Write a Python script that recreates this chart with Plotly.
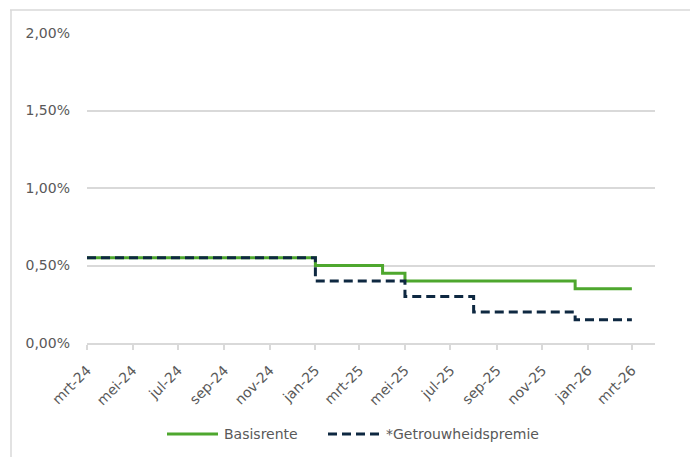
import plotly.graph_objects as go

# Step dates and rates (in %) for each series
basis_dates = ["2024-03-01", "2025-01-01", "2025-04-01", "2025-05-01", "2025-12-15", "2026-03-01"]
basis_rates = [0.55, 0.50, 0.45, 0.40, 0.35, 0.35]

premie_dates = ["2024-03-01", "2025-01-01", "2025-05-01", "2025-08-01", "2025-12-15", "2026-03-01"]
premie_rates = [0.55, 0.40, 0.30, 0.20, 0.15, 0.15]

# X-axis ticks every two months, Dutch month abbreviations
tick_dates = ["2024-03-01", "2024-05-01", "2024-07-01", "2024-09-01", "2024-11-01",
              "2025-01-01", "2025-03-01", "2025-05-01", "2025-07-01", "2025-09-01",
              "2025-11-01", "2026-01-01", "2026-03-01"]
tick_labels = ["mrt-24", "mei-24", "jul-24", "sep-24", "nov-24",
               "jan-25", "mrt-25", "mei-25", "jul-25", "sep-25",
               "nov-25", "jan-26", "mrt-26"]

y_ticks = [0, 0.5, 1.0, 1.5, 2.0]
y_tick_labels = ["0,00%", "0,50%", "1,00%", "1,50%", "2,00%"]

series_names = ["Basisrente", "*Getrouwheidspremie"]

W, H = 690, 457
GREEN = "#4EA72E"
NAVY = "#0E2841"
GRID = "#D9D9D9"
TEXT = "#595959"
FONT = "DejaVu Sans, Verdana, sans-serif"
FS = 14

fig = go.Figure()
fig.add_trace(go.Scatter(x=basis_dates, y=basis_rates, mode="lines", line_shape="hv",
                         name=series_names[0], line=dict(color=GREEN, width=3)))
fig.add_trace(go.Scatter(x=premie_dates, y=premie_rates, mode="lines", line_shape="hv",
                         name=series_names[1], line=dict(color=NAVY, width=3, dash="9px,5px")))


def px(x):
    return x / W


def py(y):
    return 1 - y / H


# Outer chart frame (top and left edges)
shapes = [
    dict(type="line", xref="paper", yref="paper", x0=px(10), x1=px(W + 5), y0=py(10), y1=py(10),
         line=dict(color=GRID, width=1.5)),
    dict(type="line", xref="paper", yref="paper", x0=px(11), x1=px(11), y0=py(10), y1=py(H + 5),
         line=dict(color=GRID, width=1.5)),
]

# Legend entries drawn below the plot
leg_y = py(434)
shapes.append(dict(type="line", xref="paper", yref="paper", x0=px(167), x1=px(218), y0=leg_y, y1=leg_y,
                   line=dict(color=GREEN, width=3)))
shapes.append(dict(type="line", xref="paper", yref="paper", x0=px(328), x1=px(380), y0=leg_y, y1=leg_y,
                   line=dict(color=NAVY, width=3, dash="9px,5px")))
annotations = [
    dict(text=series_names[0], xref="paper", yref="paper", x=px(222), y=leg_y, xanchor="left",
         yanchor="middle", showarrow=False, font=dict(size=FS, color=TEXT, family=FONT)),
    dict(text=series_names[1], xref="paper", yref="paper", x=px(384), y=leg_y, xanchor="left",
         yanchor="middle", showarrow=False, font=dict(size=FS, color=TEXT, family=FONT)),
]

fig.update_layout(
    width=W, height=H,
    margin=dict(l=0, r=0, t=0, b=0, autoexpand=False),
    paper_bgcolor="white", plot_bgcolor="white",
    showlegend=False,
    font=dict(family=FONT, size=FS, color=TEXT),
    shapes=shapes,
    annotations=annotations,
    xaxis=dict(
        domain=[px(87), px(655)],
        type="date",
        range=["2024-03-01", "2026-04-01"],
        tickvals=tick_dates, ticktext=tick_labels,
        tickangle=-45,
        tickfont=dict(size=FS, color=TEXT),
        showgrid=False, zeroline=False,
        showline=True, linecolor=GRID, linewidth=1.5,
        ticks="outside", ticklen=5, tickwidth=1.5, tickcolor=GRID,
        ticklabelstandoff=7,
        automargin=False,
    ),
    yaxis=dict(
        domain=[py(343), py(33)],
        range=[0, 2.0],
        tickvals=y_ticks, ticktext=y_tick_labels,
        tickfont=dict(size=FS, color=TEXT),
        showgrid=True, gridcolor=GRID, gridwidth=1.5,
        zeroline=False, showline=False,
        ticklabelstandoff=16,
        automargin=False,
    ),
)

fig.write_html("out.html")
